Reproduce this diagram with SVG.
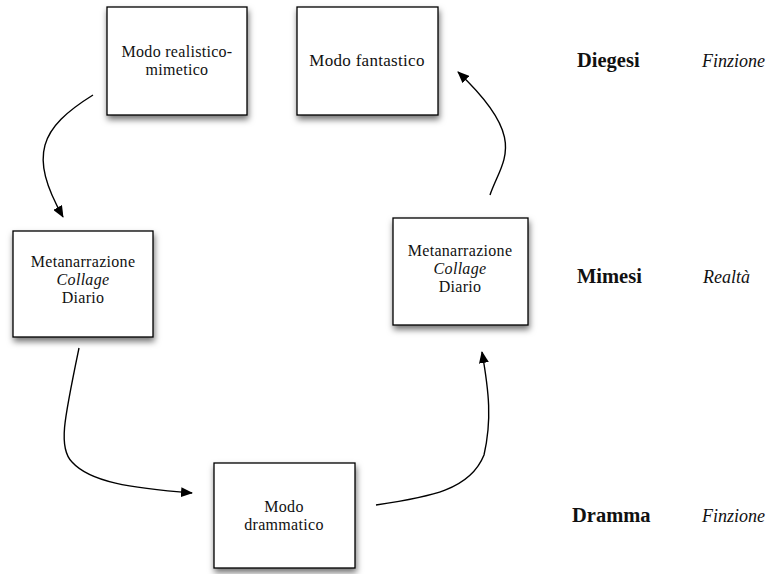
<svg xmlns="http://www.w3.org/2000/svg" width="768" height="574" viewBox="0 0 768 574">
<style>
.box{fill:#fff;stroke:#000;stroke-width:1.3;filter:url(#sh)}
.t{font-family:'Liberation Serif','Times New Roman','DejaVu Serif',serif;font-size:16px;letter-spacing:0.3px;fill:#111;text-anchor:middle}
.i{font-style:italic}
.lab{font-family:'Liberation Serif','Times New Roman','DejaVu Serif',serif;font-size:18px;fill:#111}
.b{font-weight:bold;font-size:20.5px}
.c{fill:none;stroke:#000;stroke-width:1.4;marker-end:url(#ah)}
</style>
<defs>
<filter id="sh" x="-20%" y="-20%" width="150%" height="150%">
<feDropShadow dx="1" dy="4" stdDeviation="3" flood-color="#000" flood-opacity="0.55"/>
</filter>
<marker id="ah" viewBox="0 0 12 10" refX="11" refY="5" markerWidth="12" markerHeight="10" markerUnits="userSpaceOnUse" orient="auto">
<path d="M0,0 L12,5 L0,10 z" fill="#000"/>
</marker>
</defs>
<rect width="768" height="574" fill="#fff"/>
<g id="connectors">
<path class="c" d="M93,95 C40,128 28,155 63,217"/>
<path class="c" d="M490,195 C502,160 530,140 458,72"/>
<path class="c" d="M79,348 C64,420 58,448 72,462 C90,482 130,488 192,493"/>
<path class="c" d="M376,505 C430,497 470,490 484,455 C492,420 489,392 482,352"/>
</g>
<g id="realistico">
<rect class="box" x="107" y="7" width="140" height="108"/>
<text class="t" x="177" y="57">Modo realistico-</text>
<text class="t" x="177" y="75">mimetico</text>
</g>
<g id="fantastico">
<rect class="box" x="297" y="7" width="141" height="108"/>
<text class="t" x="367" y="66" style="font-size:17px">Modo fantastico</text>
</g>
<g id="meta-left">
<rect class="box" x="13" y="231" width="140" height="106"/>
<text class="t" x="83" y="267">Metanarrazione</text>
<text class="t i" x="83" y="285">Collage</text>
<text class="t" x="83" y="303">Diario</text>
</g>
<g id="meta-right">
<rect class="box" x="393" y="218" width="135" height="107"/>
<text class="t" x="460" y="256">Metanarrazione</text>
<text class="t i" x="460" y="274">Collage</text>
<text class="t" x="460" y="292">Diario</text>
</g>
<g id="drammatico">
<rect class="box" x="214" y="463" width="141" height="105"/>
<text class="t" x="284" y="512">Modo</text>
<text class="t" x="284" y="530">drammatico</text>
</g>
<g id="labels">
<text class="lab b" x="577" y="67">Diegesi</text>
<text class="lab i" x="702" y="67">Finzione</text>
<text class="lab b" x="577" y="283">Mimesi</text>
<text class="lab i" x="703" y="283">Realtà</text>
<text class="lab b" x="572" y="522">Dramma</text>
<text class="lab i" x="702" y="522">Finzione</text>
</g>
</svg>
